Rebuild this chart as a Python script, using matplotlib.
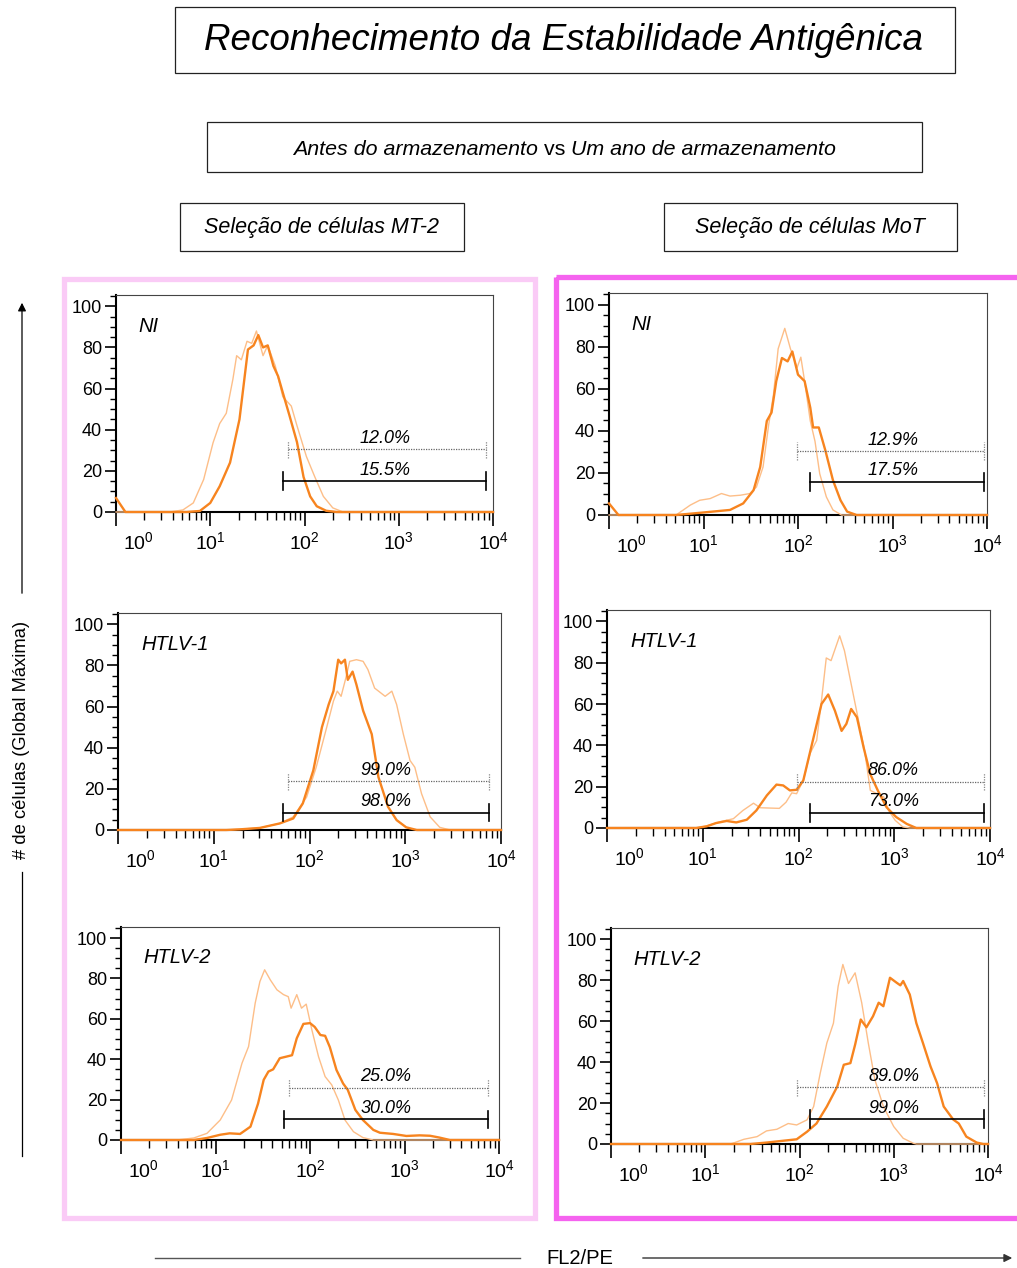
import numpy as np
import matplotlib
matplotlib.use("Agg")
import matplotlib.pyplot as plt
from matplotlib.patches import Rectangle
from matplotlib.ticker import FixedLocator, MultipleLocator, LogLocator, NullFormatter
from matplotlib.transforms import ScaledTranslation

plt.rcParams['font.family'] = ['Liberation Sans', 'DejaVu Sans']
NARROW = ['Liberation Sans Narrow', 'Liberation Sans', 'DejaVu Sans']

W, H = 1017, 1268

# histogram traces: x is log10(FL2/PE), y is % of global max
# "thin" = light orange trace, "thick" = dark orange trace
mt2_ni_thin_x = [0, 0.57, 0.71, 0.82, 0.93, 1.03, 1.10, 1.17, 1.24, 1.28, 1.33, 1.39, 1.44, 1.49, 1.56,
                 1.61, 1.69, 1.77, 1.86, 1.92, 2.02, 2.11, 2.20, 2.30, 2.41, 4]
mt2_ni_thin_y = [0, 0, 1, 4.4, 15.8, 33.7, 43, 48, 64.5, 76, 74, 83, 82, 88, 76,
                 81, 71, 56, 51.5, 42, 27, 17, 7.6, 2, 0, 0]
mt2_ni_thick_x = [0, 0.1, 0.75, 0.89, 1.0, 1.10, 1.21, 1.31, 1.40, 1.46, 1.51, 1.56, 1.61, 1.67, 1.72,
                  1.77, 1.84, 1.92, 1.99, 2.06, 2.13, 2.23, 2.34, 4]
mt2_ni_thick_y = [6.8, 0, 0, 0.5, 4.4, 12.5, 24, 45, 79, 81, 86, 80, 81, 71, 66,
                  58, 47, 34, 17, 7.6, 2.8, 0.6, 0, 0]

mot_ni_thin_x = [0, 0.71, 0.86, 0.96, 1.07, 1.19, 1.28, 1.39, 1.49, 1.56, 1.63, 1.69, 1.74, 1.79, 1.86,
                 1.92, 1.99, 2.03, 2.07, 2.13, 2.18, 2.23, 2.30, 2.37, 2.46, 4]
mot_ni_thin_y = [0, 0, 4.7, 7, 7.8, 10.2, 9, 9.4, 10.2, 13.3, 22.8, 43, 57, 79, 88.7,
                 79, 70, 75, 63.6, 44.7, 35, 19.6, 8.6, 2.4, 0, 0]
mot_ni_thick_x = [0, 0.1, 0.71, 1.0, 1.28, 1.42, 1.53, 1.60, 1.67, 1.72, 1.77, 1.83, 1.89, 1.94, 2.00,
                  2.07, 2.13, 2.16, 2.22, 2.29, 2.37, 2.45, 2.52, 2.62, 4]
mot_ni_thick_y = [5.5, 0, 0, 1.2, 2.4, 5.5, 11.8, 22.8, 44.7, 48.7, 63.6, 74.6, 73, 77.7, 66.7,
                  63.6, 51, 41.6, 41.6, 30.6, 16.5, 7, 1.6, 0, 0]

mt2_h1_thin_x = [0, 1.13, 1.48, 1.69, 1.83, 1.97, 2.07, 2.18, 2.25, 2.29, 2.33, 2.38, 2.42, 2.49, 2.56,
                 2.61, 2.68, 2.79, 2.86, 2.91, 2.98, 3.05, 3.10, 3.17, 3.26, 3.36, 3.47, 4]
mt2_h1_thin_y = [0, 0, 1, 3.2, 6.4, 16, 30.5, 50, 62.7, 67.5, 65, 74, 82, 82.8, 82,
                 78, 69, 65, 67.5, 61, 46.6, 33.8, 30.5, 17.7, 6.4, 1.3, 0, 0]
mt2_h1_thick_x = [0, 1.13, 1.27, 1.48, 1.69, 1.83, 1.93, 2.04, 2.13, 2.20, 2.25, 2.30, 2.33, 2.37, 2.40,
                  2.45, 2.49, 2.56, 2.65, 2.72, 2.82, 2.91, 3.01, 3.12, 4]
mt2_h1_thick_y = [0, 0, 0.3, 1, 3.2, 5.6, 12.9, 29, 50, 61, 67.5, 82.8, 81, 82.8, 73,
                  77, 70.7, 58, 46.6, 25.7, 11.3, 4.8, 1.3, 0, 0]

mot_h1_thin_x = [0, 0.93, 1.04, 1.18, 1.32, 1.42, 1.53, 1.60, 1.80, 1.87, 1.93, 1.98, 2.05, 2.12, 2.19,
                 2.24, 2.29, 2.34, 2.43, 2.48, 2.55, 2.62, 2.69, 2.75, 2.82, 2.89, 2.94, 3.01, 3.09, 3.16, 4]
mot_h1_thin_y = [0, 0, 1, 3, 4.5, 8.5, 12, 9.8, 9.5, 12.5, 17, 16.6, 23, 36, 42.4,
                 61.7, 82.3, 81, 93, 85.8, 69.7, 53.6, 37.5, 18.2, 16.6, 15, 8.5, 3.7, 0.5, 0, 0]
mot_h1_thick_x = [0, 0.93, 1.04, 1.14, 1.25, 1.35, 1.46, 1.56, 1.67, 1.77, 1.84, 1.91, 1.98, 2.05, 2.15,
                  2.24, 2.31, 2.38, 2.45, 2.50, 2.55, 2.61, 2.68, 2.75, 2.83, 2.92, 3.02, 3.13, 3.23, 4]
mot_h1_thick_y = [0, 0, 0.8, 2.4, 3.4, 2.7, 4, 8.5, 15.8, 21, 20.6, 18.2, 18.5, 23, 42.4,
                  60, 64.6, 56.8, 47, 50.4, 57.6, 53.6, 39, 26, 18, 10, 5.3, 2, 0, 0]

mt2_h2_thin_x = [0, 0.59, 0.77, 0.91, 1.05, 1.17, 1.28, 1.35, 1.42, 1.47, 1.52, 1.58, 1.65, 1.72, 1.77,
                 1.80, 1.86, 1.91, 1.96, 2.02, 2.09, 2.16, 2.23, 2.30, 2.37, 2.46, 2.56, 2.67, 4]
mt2_h2_thin_y = [0, 0, 1, 3.3, 9.9, 19.8, 38, 46.3, 67.8, 78.5, 84.3, 79.3, 74.4, 72, 71,
                 65.3, 72, 65.3, 67.3, 54.5, 41.3, 31.4, 27.3, 19.8, 9.9, 4.1, 1.2, 0, 0]
mt2_h2_thick_x = [0, 0.77, 0.91, 1.05, 1.15, 1.26, 1.37, 1.45, 1.51, 1.56, 1.61, 1.68, 1.75, 1.81, 1.86,
                  1.93, 2.00, 2.05, 2.11, 2.16, 2.21, 2.28, 2.35, 2.40, 2.48, 2.56, 2.67, 2.74, 2.88,
                  3.02, 3.16, 3.27, 3.37, 3.48, 4]
mt2_h2_thick_y = [0, 0, 1, 2.6, 3.3, 3, 6.6, 18, 29.8, 33.9, 35, 40.5, 41.3, 42, 50.4,
                  57.5, 57.9, 56, 52, 51.6, 46, 34.7, 28, 24.8, 14.9, 9.9, 5, 3.6, 3,
                  2, 2.3, 2.1, 1.2, 0, 0]

mot_h2_thin_x = [0, 1.27, 1.41, 1.55, 1.65, 1.76, 1.88, 1.97, 2.08, 2.15, 2.22, 2.29, 2.36, 2.41, 2.46,
                 2.52, 2.59, 2.66, 2.73, 2.80, 2.89, 3.00, 3.10, 3.21, 3.24, 4]
mot_h2_thin_y = [0, 0, 2.3, 3.6, 6.4, 7.2, 10, 9.3, 11.8, 18.3, 34.6, 49.3, 59, 77, 87.7,
                 78.4, 83.6, 69, 49.3, 31.4, 18.3, 8.5, 2.8, 0.3, 0, 0]
mot_h2_thick_x = [0, 1.48, 1.65, 1.83, 1.97, 2.08, 2.18, 2.29, 2.40, 2.47, 2.54, 2.59, 2.65, 2.71, 2.78,
                  2.84, 2.89, 2.96, 3.03, 3.07, 3.10, 3.17, 3.24, 3.31, 3.39, 3.46, 3.53, 3.63, 3.69,
                  3.77, 3.88, 3.95, 4]
mot_h2_thick_y = [0, 0, 0.7, 1.6, 2.3, 6, 10, 18.3, 28, 38.7, 39.5, 48.5, 60.8, 57, 62.4,
                  69, 67.3, 81.2, 78.8, 77.5, 79.6, 73, 59, 49.3, 37.9, 29.7, 18.3, 12, 10,
                  3.6, 0.7, 0, 0]

# gates (log10 start, log10 end, height) and their percentages, order: NI, HTLV-1, HTLV-2
row_labels = ["NI", "HTLV-1", "HTLV-2"]
mt2_dotted_pct = ["12.0%", "99.0%", "25.0%"]
mt2_solid_pct = ["15.5%", "98.0%", "30.0%"]
mot_dotted_pct = ["12.9%", "86.0%", "89.0%"]
mot_solid_pct = ["17.5%", "73.0%", "99.0%"]
mt2_dotted_gate = [(1.83, 3.93, 30.4), (1.78, 3.87, 23.6), (1.78, 3.88, 26.0)]
mt2_solid_gate = [(1.77, 3.93, 15.0), (1.72, 3.87, 8.5), (1.72, 3.88, 10.2)]
mot_dotted_gate = [(1.99, 3.97, 30.3), (1.98, 3.94, 22.5), (1.97, 3.96, 27.6)]
mot_solid_gate = [(2.13, 3.97, 15.7), (2.12, 3.94, 7.4), (2.11, 3.96, 12.1)]
mt2_label_x = [2.85, 2.80, 2.80]
mot_label_x = [3.01, 2.99, 3.00]

THIN_C = '#FDBE88'
THICK_C = '#F7841F'

fig = plt.figure(figsize=(W / 100, H / 100), dpi=100)

# pixel-coordinate background axes for boxes, frames, arrows
bg = fig.add_axes([0, 0, 1, 1])
bg.set_xlim(0, W)
bg.set_ylim(H, 0)
bg.axis('off')


def box(x0, y0, x1, y1):
    bg.add_patch(Rectangle((x0, y0), x1 - x0, y1 - y0, fill=False, ec='#222222', lw=0.9))


box(175, 7, 955, 73)
bg.text(563, 41, "Reconhecimento da Estabilidade Antigênica", ha='center', va='center',
        fontsize=26.5, style='italic', family=NARROW)

box(207, 122, 922, 172)
t1 = bg.text(293, 155, "Antes do armazenamento", ha='left', va='baseline',
             fontsize=15.4, style='italic', family=NARROW)
t2 = bg.annotate(" vs ", xy=(1, 0), xycoords=t1, ha='left', va='bottom',
                 fontsize=15.4, family=NARROW)
bg.annotate("Um ano de armazenamento", xy=(1, 0), xycoords=t2, ha='left', va='bottom',
            fontsize=15.4, style='italic', family=NARROW)

box(180, 203, 464, 251)
bg.text(322, 228, "Seleção de células MT-2", ha='center', va='center',
        fontsize=15.5, style='italic', family=NARROW)
box(664, 203, 957, 251)
bg.text(810, 228, "Seleção de células MoT", ha='center', va='center',
        fontsize=15.5, style='italic', family=NARROW)

# coloured column frames
bg.add_patch(Rectangle((63.5, 278.5), 471, 939, fill=False, ec='#FACBF6', lw=3.8))
bg.add_patch(Rectangle((555.5, 276.5), 480, 941, fill=False, ec='#F563EF', lw=3.8))

# axis titles with arrows
bg.text(22, 740, "# de células (Global Máxima)", rotation=90, ha='center', va='center',
        fontsize=13.2, family=NARROW)
bg.annotate('', xy=(22, 300), xytext=(22, 596),
            arrowprops=dict(arrowstyle='-|>', color='black', lw=0.9, mutation_scale=12))
bg.plot([22, 22], [872, 1156], color='black', lw=0.9)

bg.text(580, 1258, "FL2/PE", ha='center', va='center', fontsize=14.5, family=NARROW)
bg.plot([155, 520], [1258, 1258], color='#555555', lw=1)
bg.annotate('', xy=(1015, 1258), xytext=(640, 1258),
            arrowprops=dict(arrowstyle='-|>', color='#333333', lw=1, mutation_scale=12))

# panel frames in pixels: left, right, top, bottom
boxes_px = {
    ('mt2', 0): (116, 493, 295, 512),
    ('mot', 0): (609, 987, 293, 515),
    ('mt2', 1): (118, 501, 613, 830),
    ('mot', 1): (607, 990, 610, 828),
    ('mt2', 2): (121, 499, 927, 1140),
    ('mot', 2): (611, 988, 928, 1144),
}

traces = {
    ('mt2', 0): (mt2_ni_thin_x, mt2_ni_thin_y, mt2_ni_thick_x, mt2_ni_thick_y),
    ('mot', 0): (mot_ni_thin_x, mot_ni_thin_y, mot_ni_thick_x, mot_ni_thick_y),
    ('mt2', 1): (mt2_h1_thin_x, mt2_h1_thin_y, mt2_h1_thick_x, mt2_h1_thick_y),
    ('mot', 1): (mot_h1_thin_x, mot_h1_thin_y, mot_h1_thick_x, mot_h1_thick_y),
    ('mt2', 2): (mt2_h2_thin_x, mt2_h2_thin_y, mt2_h2_thick_x, mt2_h2_thick_y),
    ('mot', 2): (mot_h2_thin_x, mot_h2_thin_y, mot_h2_thick_x, mot_h2_thick_y),
}

gates = {
    'mt2': (mt2_dotted_gate, mt2_solid_gate, mt2_dotted_pct, mt2_solid_pct, mt2_label_x),
    'mot': (mot_dotted_gate, mot_solid_gate, mot_dotted_pct, mot_solid_pct, mot_label_x),
}

for (col, row), (l, r, t, b) in boxes_px.items():
    ax = fig.add_axes([l / W, 1 - b / H, (r - l) / W, (b - t) / H])
    ax.set_xscale('log')
    ax.set_xlim(1, 1e4)
    ax.set_ylim(0, 105.5)

    tx, ty, kx, ky = traces[(col, row)]
    ax.plot(10 ** np.array(tx), ty, color=THIN_C, lw=1.0, clip_on=False, zorder=4)
    ax.plot(10 ** np.array(kx), ky, color=THICK_C, lw=1.7, clip_on=False, zorder=5)

    dg, sg, dp, sp, lx = gates[col]
    x0, x1, yg = dg[row]
    ax.plot([10 ** x0, 10 ** x1], [yg, yg], color='#666666', lw=0.9, ls=(0, (1, 1)), zorder=6)
    for xe in (x0, x1):
        ax.plot([10 ** xe, 10 ** xe], [yg - 4.3, yg + 4.3], color='#888888', lw=0.9,
                ls=(0, (1, 1)), zorder=6)
    ax.text(10 ** lx[row], yg + 1.2, dp[row], ha='center', va='bottom', fontsize=13,
            style='italic', zorder=7)
    x0, x1, yg = sg[row]
    ax.plot([10 ** x0, 10 ** x1], [yg, yg], color='black', lw=1.2, zorder=6)
    for xe in (x0, x1):
        ax.plot([10 ** xe, 10 ** xe], [yg - 4.3, yg + 4.3], color='black', lw=1.2, zorder=6)
    ax.text(10 ** lx[row], yg + 1.2, sp[row], ha='center', va='bottom', fontsize=13,
            style='italic', zorder=7)

    ax.text(0.06, 0.90, row_labels[row], transform=ax.transAxes, ha='left', va='top',
            fontsize=14.5, style='italic')

    # frame
    for s in ('top', 'right'):
        ax.spines[s].set_color('#444444')
        ax.spines[s].set_linewidth(0.8)
    for s in ('left', 'bottom'):
        ax.spines[s].set_color('black')
        ax.spines[s].set_linewidth(1.5)

    ax.yaxis.set_major_locator(FixedLocator([0, 20, 40, 60, 80, 100]))
    ax.yaxis.set_minor_locator(MultipleLocator(5))
    ax.tick_params(axis='y', which='major', direction='out', length=8, width=1.2,
                   labelsize=13, pad=2)
    ax.tick_params(axis='y', which='minor', direction='out', length=4.5, width=1.0)

    ax.xaxis.set_major_locator(FixedLocator([1, 10, 100, 1000, 10000]))
    ax.xaxis.set_minor_locator(LogLocator(base=10, subs=np.arange(2, 10)))
    ax.xaxis.set_minor_formatter(NullFormatter())
    ax.set_xticklabels([r'$\mathregular{10^0}$', r'$\mathregular{10^1}$', r'$\mathregular{10^2}$',
                        r'$\mathregular{10^3}$', r'$\mathregular{10^4}$'])
    ax.tick_params(axis='x', which='major', direction='out', length=10, width=1.2,
                   labelsize=14, pad=4)
    ax.tick_params(axis='x', which='minor', direction='out', length=6, width=1.0)
    first = ax.get_xticklabels()[0]
    first.set_ha('left')
    first.set_transform(first.get_transform() + ScaledTranslation(0.07, 0, fig.dpi_scale_trans))

fig.savefig('out.png', dpi=100)
